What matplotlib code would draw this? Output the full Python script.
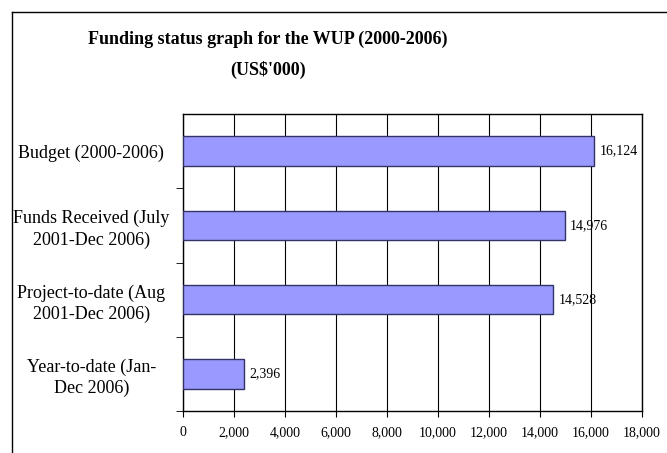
import matplotlib.pyplot as plt
from matplotlib.ticker import FuncFormatter

categorias = ['Budget (2000-2006)', 'Funds Received (July\n2001-Dec 2006)',
              'Project-to-date (Aug\n2001-Dec 2006)', 'Year-to-date (Jan-\nDec 2006)']
valores = [16124, 14976, 14528, 2396]
xticks = [0, 2000, 4000, 6000, 8000, 10000, 12000, 14000, 16000, 18000]

plt.rcParams['font.family'] = ['Liberation Serif', 'DejaVu Serif']

fig = plt.figure(figsize=(6.67, 4.53), dpi=100)
# moldura da área do gráfico (só topo e esquerda aparecem no recorte)
fig.add_artist(plt.Line2D([12 / 667, 12 / 667], [0, 1 - 12 / 453], color='black', lw=1))
fig.add_artist(plt.Line2D([12 / 667, 1], [1 - 12 / 453, 1 - 12 / 453], color='black', lw=1))

ax = fig.add_axes([183 / 667, 1 - 411 / 453, (642 - 183) / 667, (411 - 114) / 453])

pos = list(range(len(categorias)))
ax.barh(pos, valores, height=0.4, color='#9999ff', edgecolor='#333366', linewidth=1, zorder=3)
for p, v in zip(pos, valores):
    ax.text(v + 200, p, f'{v:,}', va='center', ha='left', fontsize=10, zorder=4)

ax.set_ylim(len(categorias) - 0.5, -0.5)
ax.set_yticks(pos)
ax.set_yticklabels(categorias, fontsize=13, ha='center', linespacing=1.3)
ax.tick_params(axis='y', which='major', length=0, pad=66)
ax.set_yticks([0.5, 1.5, 2.5, 3.5], minor=True)
ax.tick_params(axis='y', which='minor', length=5, direction='out')

ax.set_xlim(0, 18000)
ax.set_xticks(xticks)
ax.xaxis.set_major_formatter(FuncFormatter(lambda x, _: f'{int(x):,}'))
ax.tick_params(axis='x', labelsize=10, length=4, direction='out', pad=7)
ax.grid(axis='x', color='black', linewidth=0.8, zorder=0)
for s in ax.spines.values():
    s.set_linewidth(1)

fig.text(0.5 * (88 + 448) / 667, 1 - 55 / 453, "Funding status graph for the WUP (2000-2006)\n(US$'000)",
         ha='center', va='center', fontsize=13, fontweight='bold', linespacing=1.9)

fig.savefig('out.png', dpi=100)
